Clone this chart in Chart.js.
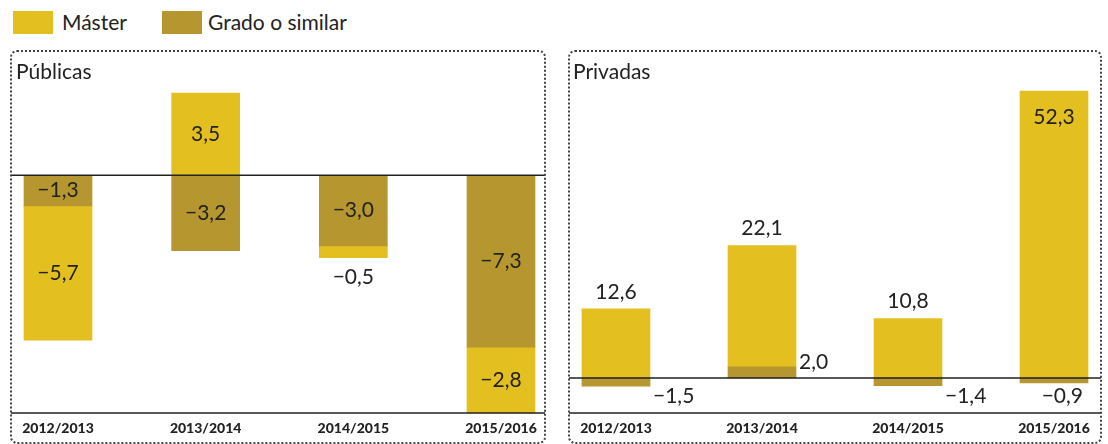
<!DOCTYPE html>
<html><head><meta charset="utf-8">
<script src="https://cdn.jsdelivr.net/npm/chart.js@4.4.0/dist/chart.umd.min.js"></script>
<style>
html,body{margin:0;padding:0;background:#fff;}
body{width:1108px;height:444px;position:relative;overflow:hidden;font-family:Lato,sans-serif;color:#222;}
.sw{position:absolute;width:40px;height:23px;top:11px;}
.lt{position:absolute;top:10px;font-size:21px;line-height:24px;white-space:nowrap;}
.panel{position:absolute;top:50px;height:394px;border:2px dotted #444;border-radius:7px;box-sizing:border-box;pointer-events:none;}
.ttl{position:absolute;top:59px;font-size:21px;line-height:24px;white-space:nowrap;}
canvas{position:absolute;}
</style></head>
<body>
<div class="sw" style="left:13px;background:#E3C020"></div>
<div class="lt" style="left:62px">Máster</div>
<div class="sw" style="left:162px;background:#B6962E"></div>
<div class="lt" style="left:208px">Grado o similar</div>

<canvas id="c1" width="534" height="392" style="left:11px;top:51px;width:534px;height:392px"></canvas>
<canvas id="c2" width="532" height="392" style="left:569px;top:51px;width:532px;height:392px"></canvas>
<div class="panel" style="left:10px;width:536px"></div>
<div class="panel" style="left:568px;width:534px"></div>
<div class="ttl" style="left:16px">Públicas</div>
<div class="ttl" style="left:573px">Privadas</div>

<script>
const categories = ['2012/2013', '2013/2014', '2014/2015', '2015/2016'];
const publicasMaster = [-5.7, 3.5, -0.5, -2.8];
const publicasGrado = [-1.3, -3.2, -3.0, -7.3];
const privadasMaster = [12.6, 22.1, 10.8, 52.3];
const privadasGrado = [-1.5, 2.0, -1.4, -0.9];
const seriesNames = ['Grado o similar', 'Máster'];

const COL_MASTER = '#E3C020';
const COL_GRADO = '#B6962E';

function fmt(v) {
  return (v < 0 ? '\u2212' : '') + Math.abs(v).toFixed(1).replace('.', ',');
}

const overlay = {
  id: 'overlay',
  afterDatasetsDraw(chart, args, opts) {
    const ctx = chart.ctx;
    const ys = chart.scales.y;
    const area = chart.chartArea;
    const W = chart.width;
    const zero = ys.getPixelForValue(0);
    ctx.save();
    ctx.strokeStyle = '#222';
    ctx.lineWidth = 1.5;
    ctx.beginPath();
    ctx.moveTo(0, zero); ctx.lineTo(W, zero);
    ctx.moveTo(0, area.bottom); ctx.lineTo(W, area.bottom);
    ctx.stroke();

    ctx.font = '21px Lato';
    ctx.fillStyle = '#222';
    ctx.textBaseline = 'middle';
    chart.data.datasets.forEach((ds, di) => {
      const meta = chart.getDatasetMeta(di);
      meta.data.forEach((el, i) => {
        const v = ds.data[i];
        const txt = fmt(v);
        const top = Math.min(el.y, el.base);
        const bot = Math.max(el.y, el.base);
        const h = bot - top;
        let x = el.x, y, align = 'center';
        if (opts.mode === 'pub') {
          if (h >= 25) { y = (top + bot) / 2; }
          else { y = bot + 20; }
        } else {
          if (di === 1) {
            y = v > 40 ? top + 26 : top - 17;
          } else {
            const tw = ctx.measureText(txt).width;
            const right = el.x + el.width / 2;
            if (right + 3 + tw > W - 6) { align = 'right'; x = right - 5; }
            else { align = 'left'; x = right + 3; }
            y = v > 0 ? zero - 16 : zero + 18;
          }
        }
        ctx.textAlign = align;
        ctx.fillText(txt, x, y);
      });
    });
    ctx.restore();
  }
};

function makeChart(id, grado, master, yMin, yMax, pad, mode) {
  return new Chart(document.getElementById(id), {
    type: 'bar',
    data: {
      labels: categories,
      datasets: [
        { label: seriesNames[0], data: grado, backgroundColor: COL_GRADO, barThickness: 68, borderWidth: 0, clip: false },
        { label: seriesNames[1], data: master, backgroundColor: COL_MASTER, barThickness: 68, borderWidth: 0, clip: false }
      ]
    },
    options: {
      responsive: false,
      animation: false,
      devicePixelRatio: 1,
      layout: { padding: pad },
      plugins: {
        legend: { display: false },
        tooltip: { enabled: false },
        title: { display: false },
        overlay: { mode: mode }
      },
      scales: {
        x: {
          stacked: true,
          offset: false,
          grid: { display: false, drawTicks: false },
          border: { display: false },
          ticks: {
            color: '#222',
            font: { family: 'Lato', size: 14, weight: '900' },
            padding: 7,
            maxRotation: 0,
            autoSkip: false
          },
          afterFit: (s) => { s.height = 30; }
        },
        y: {
          stacked: true,
          display: false,
          min: yMin,
          max: yMax
        }
      }
    },
    plugins: [overlay]
  });
}

makeChart('c1', publicasGrado, publicasMaster, -10.1, 3.5, { left: 47, right: 44, top: 42, bottom: 0 }, 'pub');
makeChart('c2', privadasGrado, privadasMaster, -6.4, 52.3, { left: 47, right: 47, top: 40, bottom: 0 }, 'priv');
</script>
</body></html>
